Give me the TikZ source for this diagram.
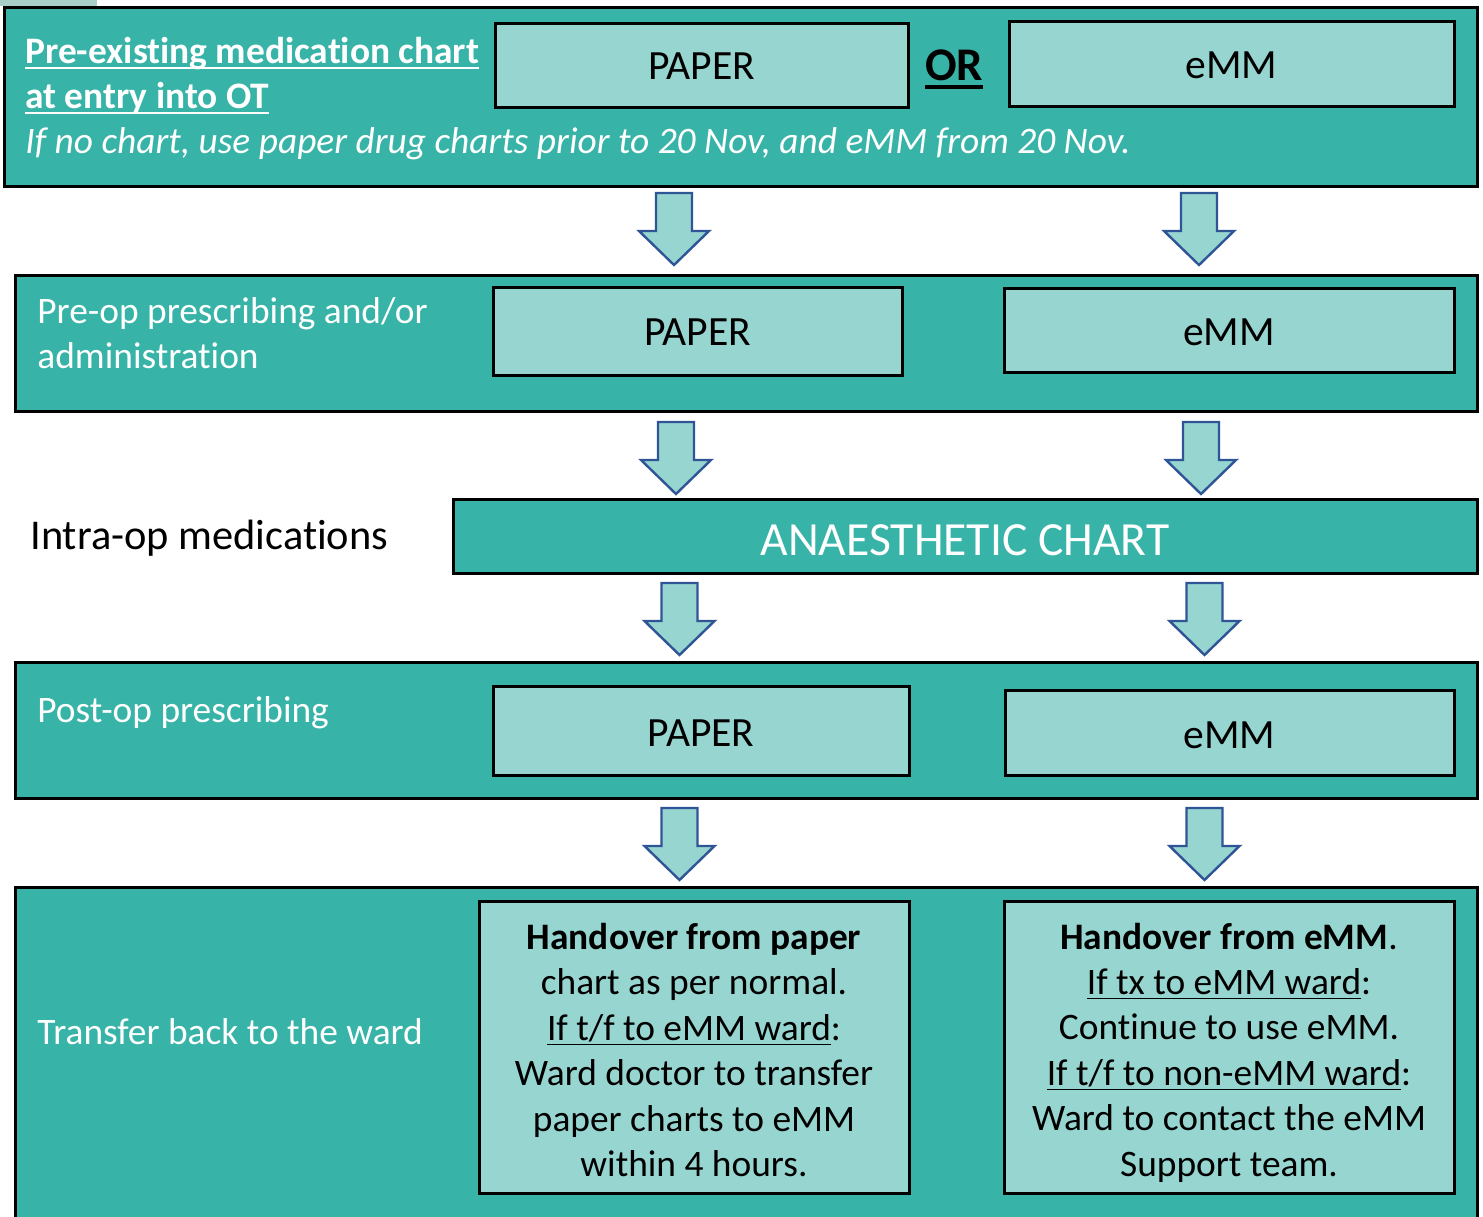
\documentclass[tikz,border=0pt]{standalone}
\usepackage{fontspec}
\setmainfont{Carlito}[Ligatures={NoCommon}]
\definecolor{teal1}{HTML}{37B3A8}
\definecolor{teallight}{HTML}{97D5D0}
\definecolor{arrblue}{HTML}{2F5597}
\definecolor{patch}{HTML}{A9CFC9}
\newcommand\fsz[1]{\fontsize{#1}{1.22\dimexpr #1pt\relax}\selectfont}
\newcommand\blockarr[2]{%
  \draw[arrowst] ({#1-18},{#2}) -- ({#1+18},{#2}) -- ({#1+18},{#2+38}) -- ({#1+35},{#2+38})
    -- ({#1},{#2+72}) -- ({#1-35},{#2+38}) -- ({#1-18},{#2+38}) -- cycle;}
\newsavebox\ulbox
\newcommand\myul[3]{\sbox\ulbox{#3}\rlap{\rule[-#2]{\wd\ulbox}{#1}}\usebox\ulbox}
\begin{document}
\begin{tikzpicture}[x=0.5pt,y=-0.5pt,
  bigbox/.style={draw=black,line width=1.5pt,fill=teal1,inner sep=0pt},
  inbox/.style={draw=black,line width=1.5pt,fill=teallight,inner sep=0pt,font=\fsz{20.8}},
  arrowst/.style={draw=arrblue,line width=1.2pt,fill=teallight,line join=miter},
  wtxt/.style={text=white,inner sep=0pt,anchor=base west,font=\fsz{18.7}}]
\useasboundingbox (0,0) rectangle (1483,1216);
\fill[patch] (0,0) rectangle (97,6);
% Row 1
\node[bigbox,minimum width=736.5pt,minimum height=89.5pt] (b1) at (740.5,96.5) {};
\node[inbox,minimum width=206.5pt,minimum height=42pt] (p1) at (701.5,65) {};
\node[inner sep=0pt,anchor=base,font=\fsz{20.8}] (p1t) at (701.5,79) {PAPER};
\node[inbox,minimum width=222.5pt,minimum height=42.5pt] (e1) at (1231.5,63.5) {};
\node[inner sep=0pt,anchor=base,font=\fsz{20.8}] (e1t) at (1231.5,78) {eMM};
\node[inner sep=0pt,anchor=base,font=\fsz{23.4}\bfseries] (or) at (954,80) {\myul{2pt}{4.5pt}{OR}};
\node[wtxt,font=\fsz{18.7}\bfseries] (t1a) at (25,63) {\myul{1pt}{3.2pt}{Pre-existing medication chart}};
\node[wtxt,font=\fsz{18.7}\bfseries] (t1b) at (25,108) {\myul{1pt}{3.2pt}{at entry into OT}};
\node[wtxt,font=\fsz{18.7}\itshape] (t1c) at (25,153) {If no chart, use paper drug charts prior to 20 Nov, and eMM from 20 Nov.};
\blockarr{674}{193}
\blockarr{1199}{193}
% Row 2
\node[bigbox,minimum width=731pt,minimum height=68pt] (b2) at (746,343) {};
\node[inbox,minimum width=204.5pt,minimum height=44pt] (p2) at (697.5,331) {};
\node[inner sep=0pt,anchor=base,font=\fsz{20.8}] (p2t) at (697.5,345) {PAPER};
\node[inbox,minimum width=225pt,minimum height=42pt] (e2) at (1229,330) {};
\node[inner sep=0pt,anchor=base,font=\fsz{20.8}] (e2t) at (1229,345) {eMM};
\node[wtxt] (t2a) at (37,323) {Pre-op prescribing and/or};
\node[wtxt] (t2b) at (37,368) {administration};
\blockarr{676}{422}
\blockarr{1201}{422}
% Row 3
\node[inner sep=0pt,anchor=base west,font=\fsz{21.2}] (t3) at (30,549) {Intra-op medications};
\node[bigbox,minimum width=512pt,minimum height=37pt] (an) at (965,536) {};
\node[inner sep=0pt,anchor=base,text=white,font=\fsz{23.8}] (ant) at (965,555) {ANAESTHETIC CHART};
\blockarr{679.5}{583}
\blockarr{1204.5}{583}
% Row 4
\node[bigbox,minimum width=731pt,minimum height=68pt] (b4) at (746,730) {};
\node[inbox,minimum width=208pt,minimum height=44.5pt] (p4) at (701,730.5) {};
\node[inner sep=0pt,anchor=base,font=\fsz{20.8}] (p4t) at (701,746) {PAPER};
\node[inbox,minimum width=224.5pt,minimum height=42.5pt] (e4) at (1229.5,732.5) {};
\node[inner sep=0pt,anchor=base,font=\fsz{20.8}] (e4t) at (1229.5,748) {eMM};
\node[wtxt] (t4) at (37,722) {Post-op prescribing};
\blockarr{679.5}{808}
\blockarr{1204.5}{808}
% Row 5
\node[bigbox,minimum width=731pt,minimum height=171.5pt] (b5) at (746,1058.5) {};
\node[inbox,minimum width=215pt,minimum height=146pt] (p5) at (694,1047) {};
\node[inbox,minimum width=225pt,minimum height=146pt] (e5) at (1229,1047) {};
\node[align=center,inner sep=0pt,font=\fontsize{18.7}{22.7}\selectfont] (p5t) at (694,1050)
  {\textbf{Handover from paper}\\chart as per normal.\\\myul{0.6pt}{2.4pt}{If t/f to eMM ward}:\\Ward doctor to transfer\\paper charts to eMM\\within 4 hours.};
\node[align=center,inner sep=0pt,font=\fontsize{18.7}{22.7}\selectfont] (e5t) at (1229,1052.5)
  {\textbf{Handover from eMM}.\\\myul{0.6pt}{2.4pt}{If tx to eMM ward}:\\Continue to use eMM.\\\myul{0.6pt}{2.4pt}{If t/f to non-eMM ward}:\\Ward to contact the eMM\\Support team.};
\node[wtxt] (t5) at (37,1044) {Transfer back to the ward};
\end{tikzpicture}
\end{document}
